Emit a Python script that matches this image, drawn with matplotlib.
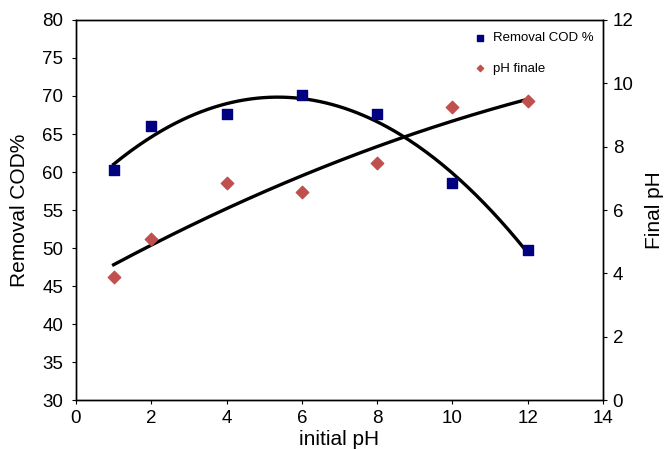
import numpy as np
import matplotlib
matplotlib.use("Agg")
import matplotlib.pyplot as plt

plt.rcParams['font.family'] = ['Liberation Sans', 'DejaVu Sans']

initial_ph = [1, 2, 4, 6, 8, 10, 12]
removal_cod = [60.3, 66.1, 67.6, 70.1, 67.6, 58.6, 49.8]
final_ph = [3.88, 5.1, 6.84, 6.58, 7.5, 9.25, 9.45]

fig = plt.figure(figsize=(6.7, 4.5), dpi=100)
ax = fig.add_axes([0.1134, 0.111, 0.7866, 0.8446])
ax2 = ax.twinx()

xs = np.linspace(1, 12, 200)
c1 = np.polyfit(initial_ph, removal_cod, 2)
c2 = np.polyfit(initial_ph, final_ph, 2)

ax.plot(xs, np.polyval(c1, xs), color='black', lw=2.4, zorder=2)
ax.scatter(initial_ph, removal_cod, marker='s', s=60, color='#000080', zorder=3, label='Removal COD %')
ax2.plot(xs, np.polyval(c2, xs), color='black', lw=2.4, zorder=2)
ax2.scatter(initial_ph, final_ph, marker='D', s=40, color='#C0504D', zorder=3, label='pH finale')

ax.set_xlim(0, 14)
ax.set_ylim(30, 80)
ax2.set_ylim(0, 12)
ax.set_xticks(range(0, 15, 2))
ax.set_yticks(range(30, 81, 5))
ax2.set_yticks(range(0, 13, 2))

for a in (ax, ax2):
    a.tick_params(labelsize=13.5, direction='out', length=3, width=0.8, pad=4)
    for s in a.spines.values():
        s.set_linewidth(1.0)
ax.tick_params(axis='y', pad=6)

ax.set_xlabel('initial pH', fontsize=15, labelpad=2)
ax.set_ylabel('Removal COD%', fontsize=15, labelpad=10)
ax2.set_ylabel('Final pH', fontsize=15, labelpad=8)

h1, l1 = ax.get_legend_handles_labels()
h2, l2 = ax2.get_legend_handles_labels()
leg = ax2.legend(h1 + h2, l1 + l2, loc='upper right', frameon=False, fontsize=9.5,
                 handletextpad=0.0, markerscale=0.5, labelspacing=1.4,
                 bbox_to_anchor=(1.005, 1.0))

fig.savefig('out.png', dpi=100)
